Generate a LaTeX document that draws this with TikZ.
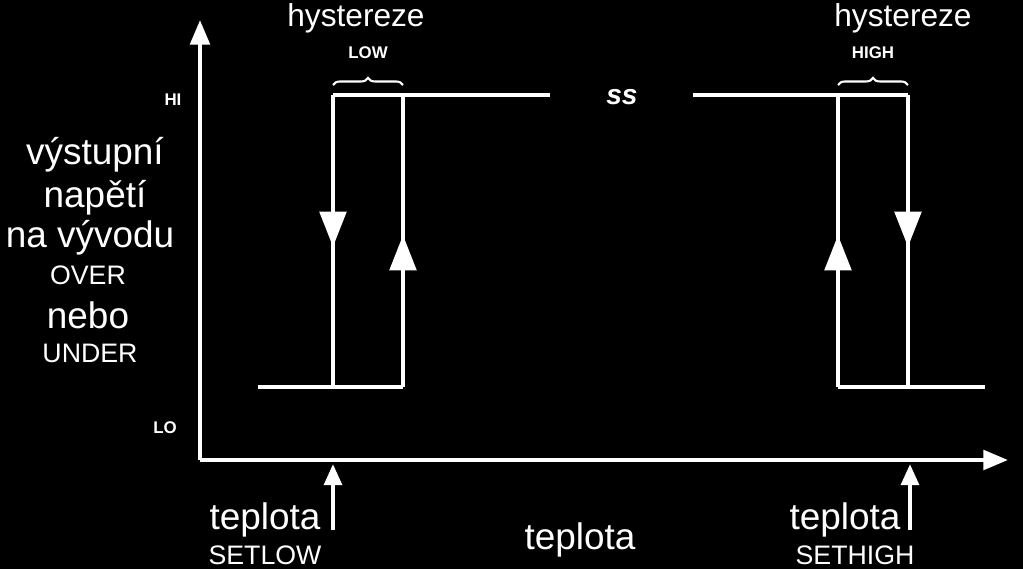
\documentclass[tikz,border=0pt]{standalone}
\usepackage{fontspec}
\setmainfont{Liberation Sans}
\usetikzlibrary{arrows.meta,decorations.pathreplacing,decorations.markings}
\begin{document}
\begin{tikzpicture}[x=0.01cm,y=-0.01cm,
  ln/.style={white,line width=1.2pt},
  ax/.style={ln,-{Triangle[length=7pt,width=5.5pt]}},
  mid/.style={ln,decoration={markings,mark=at position #1 with {\arrow{Triangle[length=10pt,width=7.5pt]}}},postaction={decorate}},
  big/.style={text=white,font=\fontsize{10.5}{10.5}\selectfont},
  hy/.style={text=white,font=\fontsize{9}{9}\selectfont},
  sm/.style={text=white,font=\fontsize{7.6}{7.6}\selectfont},
  tiny/.style={text=white,font=\bfseries\fontsize{4.8}{4.8}\selectfont},
  br/.style={white,line width=0.6pt,decorate,decoration={brace,amplitude=2pt}}]
\fill[black] (0,0) rectangle (1023,569);
\useasboundingbox (0,0) rectangle (1023,569);
\coordinate (o) at (200,460);
\coordinate (yt) at (200,20);
\coordinate (xt) at (1008,460);
\draw[ax] (o) -- (yt);
\draw[ax] (o) -- (xt);
\node[tiny] (hi) at (173,100) {HI};
\node[tiny] (lo) at (165,428) {LO};
\node[big] (t1) at (95,155) {výstupní};
\node[big] (t2) at (95,198) {napětí};
\node[big] (t3) at (90,238) {na vývodu};
\node[sm] (t4) at (88,275) {OVER};
\node[big] (t5) at (88,315) {nebo};
\node[sm] (t6) at (90,353) {UNDER};
% left loop
\coordinate (a1) at (333,95); \coordinate (a2) at (403,95); \coordinate (a3) at (550,95);
\coordinate (b0) at (258,387); \coordinate (b1) at (333,387); \coordinate (b2) at (403,387);
\draw[ln] (a1) -- (a3);
\draw[ln] (b0) -- (b2);
\draw[mid=0.52] (a1) -- (b1);
\draw[mid=0.52] (b2) -- (a2);
% right loop
\coordinate (c0) at (693,95); \coordinate (c1) at (838,95); \coordinate (c2) at (908,95);
\coordinate (d1) at (838,387); \coordinate (d2) at (908,387); \coordinate (d3) at (985,387);
\draw[ln] (c0) -- (c2);
\draw[ln] (d1) -- (d3);
\draw[mid=0.52] (d1) -- (c1);
\draw[mid=0.52] (c2) -- (d2);
\node[text=white,font=\bfseries\itshape\fontsize{8}{8}\selectfont] (sq) at (622,97) {ss};
% braces
\draw[br] (333,85) -- (403,85);
\draw[br] (838,85) -- (908,85);
\node[tiny] (low) at (368,53) {LOW};
\node[tiny] (high) at (873,53) {HIGH};
\node[hy] (h1) at (356,18) {hystereze};
\node[hy] (h2) at (903,18) {hystereze};
% bottom
\coordinate (p1) at (333,530); \coordinate (p1t) at (333,464);
\coordinate (p2) at (910,530); \coordinate (p2t) at (910,464);
\draw[ln,-{Triangle[length=6pt,width=5pt]}] (p1) -- (p1t);
\draw[ln,-{Triangle[length=6pt,width=5pt]}] (p2) -- (p2t);
\node[big] (s1) at (265,520) {teplota};
\node[sm] (s2) at (265,555) {SETLOW};
\node[big] (s3) at (580,540) {teplota};
\node[big] (s4) at (845,520) {teplota};
\node[sm] (s5) at (855,555) {SETHIGH};
\end{tikzpicture}
\end{document}
